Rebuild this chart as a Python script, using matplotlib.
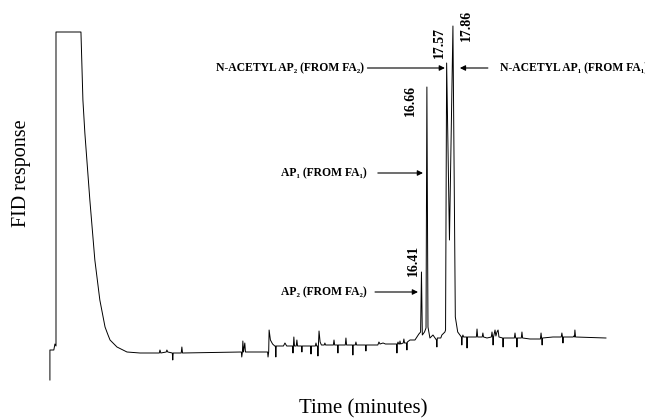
import numpy as np
import matplotlib
matplotlib.use("Agg")
import matplotlib.pyplot as plt

# FID trace: time (min) and response (arbitrary units)
solvent_t = [-0.71, -0.71, -0.53, -0.48, -0.43, -0.43, 0.72, 0.81, 0.90, 1.13,
             1.36, 1.59, 1.83, 1.95, 2.06, 2.38, 2.84, 3.44]
solvent_r = [0, 30, 30, 36, 34, 348, 348, 280, 247, 180,
             120, 80, 53, 46, 40, 33, 28, 27]

baseline_t = [4.20, 4.33, 4.36, 4.40, 4.65, 4.68, 4.72, 4.93, 4.95, 4.97,
              5.34, 5.37, 5.40, 8.04, 8.11, 8.13, 8.16, 8.18, 8.21, 8.27,
              8.30, 9.32, 9.34, 9.37, 9.39, 9.45, 9.55, 9.65, 9.68, 9.70,
              9.72, 10.05, 10.12, 10.20, 10.47, 10.49, 10.51, 10.53, 10.56, 10.64,
              10.67, 10.70, 10.88, 10.90, 10.92, 11.30, 11.32, 11.34, 11.52, 11.55,
              11.58, 11.62, 11.64, 11.66, 11.69, 11.74, 11.80, 11.93, 11.96, 11.99,
              12.35, 12.38, 12.41, 12.54, 12.56, 12.58, 12.90, 12.93, 12.96, 13.23,
              13.25, 13.27, 13.36, 13.39, 13.42, 13.83, 13.85, 13.87, 14.40, 14.45,
              14.50, 14.64, 14.75, 15.26, 15.28, 15.30, 15.33, 15.36, 15.40, 15.42,
              15.45, 15.57, 15.60, 15.63, 15.72, 15.74, 15.76, 15.88, 16.11, 16.20,
              16.29, 16.37]
baseline_r = [27, 27, 30, 27, 28, 30, 28, 27, 20, 27,
              27, 33, 27, 28, 28, 23, 28, 39, 28, 37,
              28, 28, 23, 28, 50, 40, 36, 34, 34, 23,
              34, 34, 37, 34, 34, 27, 34, 43, 34, 34,
              40, 34, 34, 28, 34, 34, 26, 34, 34, 37,
              34, 34, 24, 35, 49, 38, 35, 35, 37, 35,
              35, 40, 35, 35, 27, 35, 35, 42, 35, 35,
              25, 35, 35, 38, 35, 35, 29, 35, 35, 38,
              36, 37, 36, 36, 27, 36, 38, 36, 36, 39,
              36, 37, 41, 37, 37, 30, 38, 40, 40, 43,
              46, 48]

peaks_t = [16.41, 16.45, 16.55, 16.62, 16.66, 16.71, 16.80, 16.94, 17.10, 17.12,
           17.14, 17.30, 17.35, 17.49, 17.52, 17.57, 17.70, 17.86, 17.97, 18.08,
           18.18]
peaks_r = [108, 45, 48, 52, 293, 53, 42, 45, 40, 33,
           42, 42, 45, 48, 50, 317, 140, 354, 63, 48,
           45]

tail_t = [18.25, 18.27, 18.29, 18.32, 18.35, 18.49, 18.51, 18.53, 18.78, 18.94,
          18.97, 19.00, 19.21, 19.24, 19.27, 19.43, 19.63, 19.66, 19.69, 19.71,
          19.73, 19.80, 19.84, 19.89, 19.94, 19.98, 20.15, 20.17, 20.19, 20.49,
          20.69, 20.72, 20.75, 20.79, 20.81, 20.83, 21.01, 21.04, 21.07, 21.41,
          21.89, 21.92, 21.95, 21.97, 21.99, 22.47, 22.85, 22.88, 22.91, 22.93,
          22.95, 23.40, 23.43, 23.46, 23.48, 23.51, 24.91]
tail_r = [43, 35, 43, 45, 43, 43, 32, 43, 43, 43,
          51, 43, 43, 47, 43, 42, 43, 48, 43, 35,
          43, 50, 44, 48, 50, 43, 42, 33, 42, 42,
          42, 47, 42, 42, 33, 42, 42, 48, 42, 41,
          41, 47, 41, 35, 42, 43, 43, 47, 43, 37,
          43, 43, 44, 43, 50, 43, 42]

# labelled retention times and where their numbers sit
peak_labels = ["16.41", "16.66", "17.57", "17.86"]
peak_label_t = [16.02, 15.88, 17.26, 18.50]
peak_label_r = [120, 280, 338, 355]

# arrow annotations: text, text anchor, arrow tail, arrow head
arrow_texts = ["N-ACETYL AP\u2082 (FROM FA\u2082)", "N-ACETYL AP\u2081 (FROM FA\u2081)",
               "AP\u2081 (FROM FA\u2081)", "AP\u2082 (FROM FA\u2082)"]
arrow_text_t = [13.74, 20.03, 13.90, 13.90]
arrow_text_ha = ["right", "left", "right", "right"]
arrow_from_t = [13.92, 19.47, 14.40, 14.27]
arrow_to_t = [17.49, 18.18, 16.48, 16.25]
arrow_r = [312, 312, 207, 88]

serif = ["Liberation Serif", "DejaVu Serif"]


def main():
    fig = plt.figure(figsize=(6.45, 4.19), dpi=100)
    ax = fig.add_axes([0, 0, 1, 1])
    ax.axis("off")

    t = np.concatenate([solvent_t, baseline_t, peaks_t, tail_t])
    r = np.concatenate([solvent_r, baseline_r, peaks_r, tail_r])
    ax.plot(t, r, color="black", lw=0.7)

    ax.set_xlim(-3.01, 26.71)
    ax.set_ylim(-39, 380)

    for lab, lt, lr in zip(peak_labels, peak_label_t, peak_label_r):
        ax.text(lt, lr, lab, rotation=90, ha="center", va="center",
                fontsize=10, fontweight="bold", family=serif)

    for txt, tt, ha, t0, t1, ar in zip(arrow_texts, arrow_text_t, arrow_text_ha,
                                       arrow_from_t, arrow_to_t, arrow_r):
        ax.text(tt, ar, txt, ha=ha, va="center", fontsize=8.4,
                fontweight="bold", family=serif)
        ax.annotate("", xy=(t1, ar), xytext=(t0, ar),
                    arrowprops=dict(arrowstyle="-|>", color="black", lw=0.8,
                                    mutation_scale=8, shrinkA=0, shrinkB=0))

    fig.text(22 / 645, 1 - 173 / 419, "FID response", rotation=90,
             ha="center", va="center", fontsize=14.5, family=serif)
    fig.text(363 / 645, 1 - 409 / 419, "Time (minutes)", ha="center",
             va="center", fontsize=15, family=serif)

    fig.savefig("out.png", dpi=100)


main()
